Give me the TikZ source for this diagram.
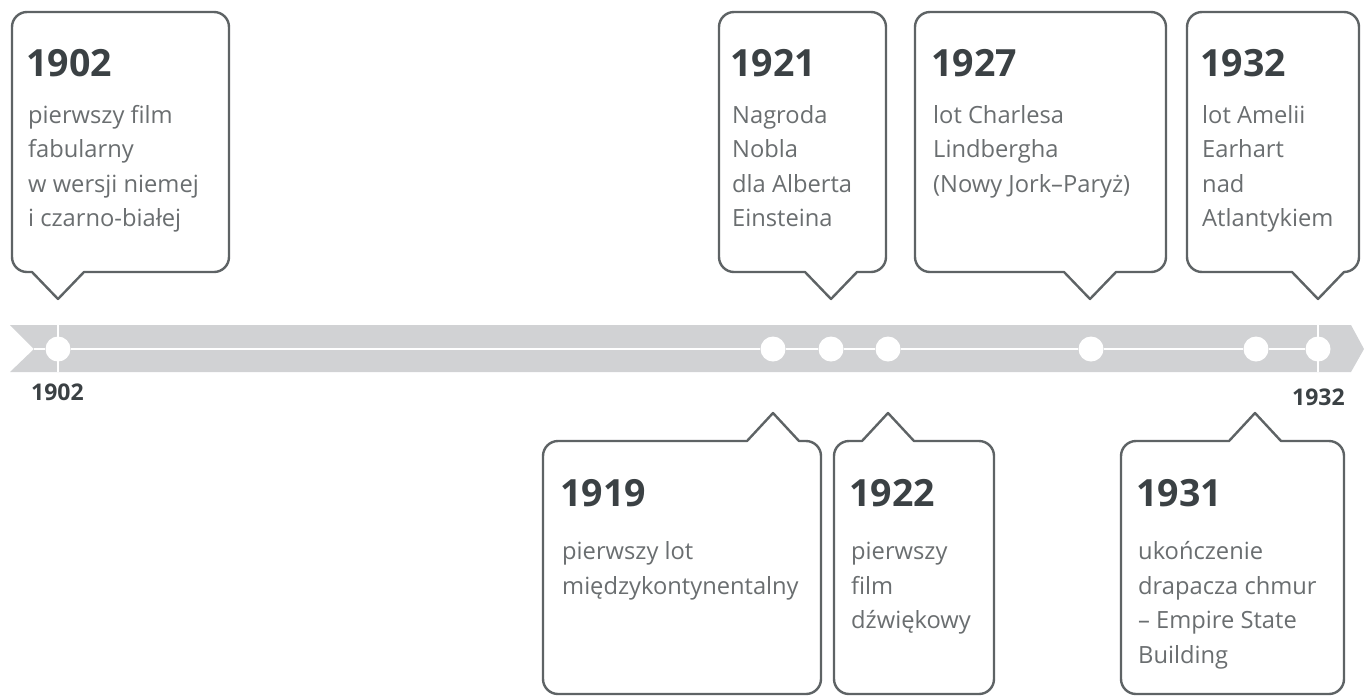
\documentclass[tikz,border=0pt]{standalone}
\usepackage{fontspec}
\setmainfont{Open Sans}
\definecolor{bandgray}{HTML}{D1D2D4}
\definecolor{boxline}{HTML}{5E6365}
\definecolor{headtext}{HTML}{3B4144}
\definecolor{bodytext}{HTML}{6A6E70}
\newcommand{\callboxdown}[5]{% L R T B tipx
  \draw[callout] (#5+26,#4) -- (#2-15,#4) arc(90:0:15) -- (#2,#3+15) arc(0:-90:15)
    -- (#1+15,#3) arc(-90:-180:15) -- (#1,#4-15) arc(180:90:15) -- (#5-26,#4)
    -- (#5,#4+27) -- cycle;}
\newcommand{\callboxup}[5]{% L R T B tipx
  \draw[callout] (#5-26,#3) -- (#5,#3-28) -- (#5+26,#3) -- (#2-15,#3) arc(-90:0:15)
    -- (#2,#4-15) arc(0:90:15) -- (#1+15,#4) arc(90:180:15) -- (#1,#3+15) arc(180:270:15)
    -- cycle;}
\begin{document}
\begin{tikzpicture}[x=1pt,y=-1pt,
  callout/.style={draw=boxline,line width=2.4pt,line join=round,fill=white},
  dot/.style={circle,fill=white,minimum size=25pt,inner sep=0pt},
  head/.style={anchor=base west,inner sep=0pt,text=headtext,font=\fontsize{37.5}{40}\selectfont\bfseries},
  body/.style={anchor=base west,inner sep=0pt,text=bodytext,font=\fontsize{23.7}{30}\selectfont},
  yearlbl/.style={anchor=base west,inner sep=0pt,text=headtext,font=\fontsize{23}{26}\selectfont\bfseries},
  whiteline/.style={draw=white,line width=2.6pt}]
\useasboundingbox (0,0) rectangle (1364,697);
% band
\fill[bandgray] (10,325) -- (1351,325) -- (1364,349) -- (1351,372) -- (10,372) -- (34,349) -- cycle;
\coordinate (lstart) at (34,349);
\coordinate (t1top) at (58,325);
\coordinate (t1bot) at (58,372);
\coordinate (t2top) at (1318,325);
\coordinate (t2bot) at (1318,372);
\draw[whiteline] (t1top) -- (t1bot);
\draw[whiteline] (t2top) -- (t2bot);
\node[dot] (d1902) at (58,349) {};
\node[dot] (d1919) at (773,349) {};
\node[dot] (d1921) at (831,349) {};
\node[dot] (d1922) at (888,349) {};
\node[dot] (d1927) at (1091,349) {};
\node[dot] (d1931) at (1256,349) {};
\node[dot] (d1932) at (1318,349) {};
\draw[whiteline] (lstart) -- (d1902) -- (d1919) -- (d1921) -- (d1922) -- (d1927) -- (d1931) -- (d1932);
\node[yearlbl] (l1902) at (31,400) {1902};
\node[yearlbl] (l1932) at (1292,405) {1932};
% upper callouts
\callboxdown{12}{229}{12}{272}{58}
\callboxdown{719}{886}{12}{272}{831}
\callboxdown{915}{1166}{12}{272}{1090}
\callboxdown{1187}{1359}{12}{272}{1318}
% lower callouts
\callboxup{543}{821}{441}{694}{773}
\callboxup{834}{994}{441}{694}{888}
\callboxup{1121}{1344}{441}{694}{1255}
% texts 1902
\node[head] (h1902) at (26,76) {1902};
\node[body] (b1902a) at (28,123) {pierwszy film};
\node[body] (b1902b) at (28,157.5) {fabularny};
\node[body] (b1902c) at (28,192) {w wersji niemej};
\node[body] (b1902d) at (28,226.5) {i czarno-białej};
% 1921
\node[head] (h1921) at (730,76) {1921};
\node[body] (b1921a) at (732,123) {Nagroda};
\node[body] (b1921b) at (732,157.5) {Nobla};
\node[body] (b1921c) at (732,192) {dla Alberta};
\node[body] (b1921d) at (732,226.5) {Einsteina};
% 1927
\node[head] (h1927) at (931,76) {1927};
\node[body] (b1927a) at (933,123) {lot Charlesa};
\node[body] (b1927b) at (933,157.5) {Lindbergha};
\node[body] (b1927c) at (933,192) {(Nowy Jork–Paryż)};
% 1932
\node[head] (h1932) at (1200,76) {1932};
\node[body] (b1932a) at (1202,123) {lot Amelii};
\node[body] (b1932b) at (1202,157.5) {Earhart};
\node[body] (b1932c) at (1202,192) {nad};
\node[body] (b1932d) at (1202,226.5) {Atlantykiem};
% 1919
\node[head] (h1919) at (560,506) {1919};
\node[body] (b1919a) at (562,559) {pierwszy lot};
\node[body] (b1919b) at (562,594) {międzykontynentalny};
% 1922
\node[head] (h1922) at (849,506) {1922};
\node[body] (b1922a) at (851,559) {pierwszy};
\node[body] (b1922b) at (851,594) {film};
\node[body] (b1922c) at (851,628.5) {dźwiękowy};
% 1931
\node[head] (h1931) at (1136,506) {1931};
\node[body] (b1931a) at (1138,559) {ukończenie};
\node[body] (b1931b) at (1138,594) {drapacza chmur};
\node[body] (b1931c) at (1138,628.5) {– Empire State};
\node[body] (b1931d) at (1138,663) {Building};
\end{tikzpicture}
\end{document}
